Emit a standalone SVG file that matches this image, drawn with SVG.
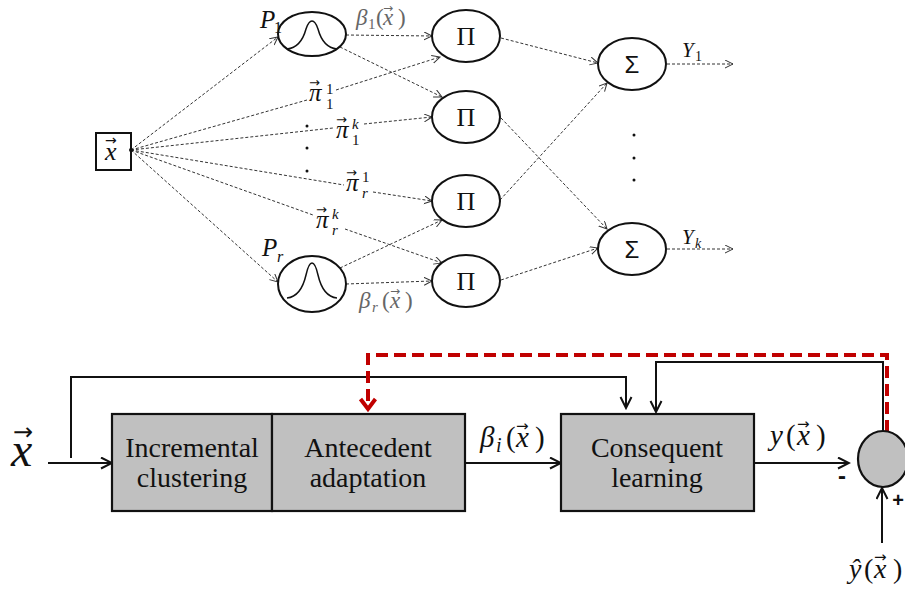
<svg xmlns="http://www.w3.org/2000/svg" width="905" height="592" viewBox="0 0 905 592">
<style>
.node{fill:#fff;stroke:#111;stroke-width:2}
.dl{fill:none;stroke:#333;stroke-width:1;stroke-dasharray:3 2}
.sl{fill:none;stroke:#111;stroke-width:2}
.rl{fill:none;stroke:#c00000;stroke-width:4;stroke-dasharray:12 6}
.box{fill:#c0c0c0;stroke:#111;stroke-width:2.2}
.m{font-family:'Liberation Serif','Times New Roman',serif;font-style:italic;fill:#111}
.n{font-style:normal}
.g{fill:#666}
.t{font-family:'Liberation Serif','Times New Roman',serif;font-size:28px;fill:#111;text-anchor:middle}
.op{font-family:'Liberation Serif',serif;font-size:26px;fill:#111;text-anchor:middle}
.ar{font-family:'DejaVu Sans',sans-serif;font-style:normal}
.dot{fill:#111}
</style>
<defs>
<marker id="ah" markerUnits="userSpaceOnUse" markerWidth="10" markerHeight="9" refX="8" refY="4" orient="auto">
<path d="M0,0 L8,4 L0,8" fill="none" stroke="#333" stroke-width="1"/>
</marker>
<marker id="ab" markerUnits="userSpaceOnUse" markerWidth="14" markerHeight="14" refX="12" refY="6.5" orient="auto">
<path d="M1,1 L12,6.5 L1,12" fill="none" stroke="#111" stroke-width="2"/>
</marker>
<marker id="ar" markerUnits="userSpaceOnUse" markerWidth="16" markerHeight="20" refX="12" refY="9" orient="auto">
<path d="M2,1.5 L12,9 L2,16.5" fill="none" stroke="#c00000" stroke-width="4"/>
</marker>
</defs>

<g id="connectors">
<line class="dl" x1="131" y1="150" x2="278" y2="37" marker-end="url(#ah)"/>
<line class="dl" x1="131" y1="150" x2="278" y2="282" marker-end="url(#ah)"/>
<line class="dl" x1="131" y1="150" x2="307" y2="100"/>
<line class="dl" x1="336" y1="90" x2="440" y2="57" marker-end="url(#ah)"/>
<line class="dl" x1="131" y1="150" x2="333" y2="128"/>
<line class="dl" x1="364" y1="124" x2="432" y2="117" marker-end="url(#ah)"/>
<line class="dl" x1="131" y1="150" x2="344" y2="185"/>
<line class="dl" x1="373" y1="192" x2="432" y2="201" marker-end="url(#ah)"/>
<line class="dl" x1="131" y1="150" x2="313" y2="215"/>
<line class="dl" x1="345" y1="229" x2="442" y2="263" marker-end="url(#ah)"/>
<line class="dl" x1="346" y1="35" x2="432" y2="36" marker-end="url(#ah)"/>
<line class="dl" x1="340" y1="47" x2="442" y2="97" marker-end="url(#ah)"/>
<line class="dl" x1="340" y1="268" x2="442" y2="220" marker-end="url(#ah)"/>
<line class="dl" x1="346" y1="284" x2="432" y2="281" marker-end="url(#ah)"/>
<line class="dl" x1="501" y1="38" x2="598" y2="63" marker-end="url(#ah)"/>
<line class="dl" x1="501" y1="118" x2="607" y2="229" marker-end="url(#ah)"/>
<line class="dl" x1="500" y1="200" x2="607" y2="83" marker-end="url(#ah)"/>
<line class="dl" x1="501" y1="280" x2="598" y2="248" marker-end="url(#ah)"/>
<line class="dl" x1="667" y1="64" x2="733" y2="64" stroke-width="1.3" stroke-dasharray="4 2" marker-end="url(#ah)"/>
<line class="dl" x1="667" y1="249" x2="733" y2="249" stroke-width="1.3" stroke-dasharray="4 2" marker-end="url(#ah)"/>
<line class="sl" x1="48" y1="463" x2="112" y2="463" marker-end="url(#ab)"/>
<polyline class="sl" points="71,458 71,377 626,377 626,408" marker-end="url(#ab)"/>
<line class="sl" x1="465" y1="463" x2="561" y2="463" marker-end="url(#ab)"/>
<line class="sl" x1="754" y1="463" x2="849" y2="463" marker-end="url(#ab)"/>
<line class="sl" x1="882" y1="543" x2="882" y2="488" marker-end="url(#ab)"/>
<polyline class="sl" points="883,432 883,362 656,362 656,412" marker-end="url(#ab)"/>
<polyline class="rl" points="887,432 887,355 368,355 368,409" marker-end="url(#ar)"/>
</g>

<g id="input-x">
<rect x="96" y="133" width="35" height="37" fill="#fff" stroke="#111" stroke-width="2"/>
<text class="m" x="105" y="160" font-size="26">x<tspan class="ar" x="105" y="145" font-size="14">→</tspan></text>
<circle cx="131" cy="150" r="2" class="dot"/>
</g>

<g id="p1">
<ellipse class="node" cx="312" cy="34" rx="34" ry="22"/>
<path d="M287,49 C297,48 303,40 306,29 C308,23 310,21 312,21 C314,21 316,23 318,29 C321,40 327,48 337,49" fill="none" stroke="#111" stroke-width="1.5"/>
<text class="m" x="260" y="28" font-size="25">P<tspan class="n" font-size="16" x="274" y="33">1</tspan></text>
<text class="m g" x="356" y="25" font-size="23">β<tspan class="n" font-size="15" x="368" y="29">1</tspan><tspan class="n" x="376" y="25">(</tspan><tspan x="383" y="25">x</tspan><tspan class="n" x="398" y="25">)</tspan><tspan class="ar" x="383" y="12" font-size="12">→</tspan></text>
</g>

<g id="pr">
<ellipse class="node" cx="312" cy="284" rx="34" ry="28"/>
<path d="M287,298 C297,297 303,288 306,275 C308,266 310,263 312,263 C314,263 316,266 318,275 C321,288 327,297 337,298" fill="none" stroke="#111" stroke-width="1.5"/>
<text class="m" x="262" y="256" font-size="25">P<tspan font-size="16" x="277" y="262">r</tspan></text>
<text class="m g" x="359" y="308" font-size="23">β<tspan font-size="15" x="372" y="312">r</tspan><tspan class="n" x="382" y="308">(</tspan><tspan x="390" y="308">x</tspan><tspan class="n" x="405" y="308">)</tspan><tspan class="ar" x="390" y="295" font-size="12">→</tspan></text>
</g>

<g id="pi-labels">
<text class="m" x="309" y="101" font-size="25">π<tspan class="n" x="326" y="94" font-size="15">1</tspan><tspan class="n" x="326" y="109" font-size="15">1</tspan><tspan class="ar" x="309" y="87" font-size="13">→</tspan></text>
<text class="m" x="336" y="138" font-size="25">π<tspan x="352" y="129" font-size="15">k</tspan><tspan class="n" x="352" y="145" font-size="15">1</tspan><tspan class="ar" x="336" y="124" font-size="13">→</tspan></text>
<text class="m" x="346" y="191" font-size="25">π<tspan class="n" x="362" y="182" font-size="15">1</tspan><tspan x="362" y="198" font-size="15">r</tspan><tspan class="ar" x="346" y="177" font-size="13">→</tspan></text>
<text class="m" x="316" y="228" font-size="25">π<tspan x="332" y="219" font-size="15">k</tspan><tspan x="332" y="235" font-size="15">r</tspan><tspan class="ar" x="316" y="214" font-size="13">→</tspan></text>
<circle cx="307" cy="126" r="1.5" class="dot"/>
<circle cx="307" cy="148" r="1.5" class="dot"/>
<circle cx="307" cy="171" r="1.5" class="dot"/>
</g>

<g id="prod1"><ellipse class="node" cx="466" cy="36" rx="34" ry="26"/><text class="op" x="466" y="45">Π</text></g>
<g id="prod2"><ellipse class="node" cx="466" cy="117" rx="34" ry="26"/><text class="op" x="466" y="126">Π</text></g>
<g id="prod3"><ellipse class="node" cx="466" cy="201" rx="34" ry="26"/><text class="op" x="466" y="210">Π</text></g>
<g id="prod4"><ellipse class="node" cx="466" cy="281" rx="34" ry="26"/><text class="op" x="466" y="290">Π</text></g>

<g id="sum1"><ellipse class="node" cx="632" cy="64" rx="34" ry="26"/><text x="632" y="73" font-family="'Liberation Sans','DejaVu Sans',sans-serif" font-size="24" text-anchor="middle" fill="#111">Σ</text>
<text class="m" x="682" y="57" font-size="21" fill="#555">Y<tspan class="n" font-size="14" x="695" y="61">1</tspan></text></g>
<g id="sum2"><ellipse class="node" cx="632" cy="249" rx="34" ry="26"/><text x="632" y="258" font-family="'Liberation Sans','DejaVu Sans',sans-serif" font-size="24" text-anchor="middle" fill="#111">Σ</text>
<text class="m" x="682" y="244" font-size="21" fill="#555">Y<tspan font-size="14" x="695" y="248">k</tspan></text></g>
<g id="sum-dots">
<circle cx="634" cy="135" r="1.5" class="dot"/>
<circle cx="634" cy="158" r="1.5" class="dot"/>
<circle cx="634" cy="180" r="1.5" class="dot"/>
</g>

<g id="x-input-bottom">
<text class="m" x="11" y="466" font-size="48">x<tspan class="ar" x="13" y="440" font-size="24">→</tspan></text>
</g>

<g id="incremental">
<rect class="box" x="112" y="414" width="160" height="97"/>
<text class="t" x="192" y="457">Incremental</text>
<text class="t" x="192" y="487">clustering</text>
</g>
<g id="antecedent">
<rect class="box" x="272" y="414" width="193" height="97"/>
<text class="t" x="368" y="457">Antecedent</text>
<text class="t" x="368" y="487">adaptation</text>
</g>
<g id="consequent">
<rect class="box" x="561" y="414" width="193" height="97"/>
<text class="t" x="657" y="457">Consequent</text>
<text class="t" x="657" y="487">learning</text>
</g>
<g id="beta-label">
<text class="m" x="480" y="447" font-size="29" fill="#5a6070">β<tspan font-size="20" x="496" y="452">i</tspan><tspan class="n" x="506" y="447">(</tspan><tspan x="516" y="447">x</tspan><tspan class="n" x="535" y="447">)</tspan><tspan class="ar" x="516" y="431" font-size="15">→</tspan></text>
</g>
<g id="y-label">
<text class="m" x="770" y="445" font-size="29">y<tspan class="n" x="786" y="445">(</tspan><tspan x="797" y="445">x</tspan><tspan class="n" x="816" y="445">)</tspan><tspan class="ar" x="797" y="429" font-size="15">→</tspan></text>
</g>
<g id="sum-circle">
<ellipse cx="883" cy="459" rx="25" ry="28" fill="#c0c0c0" stroke="#111" stroke-width="2.2"/>
<text x="842" y="484" font-family="'Liberation Sans','DejaVu Sans',sans-serif" font-size="24" font-weight="bold" fill="#111" text-anchor="middle">-</text>
<text x="898" y="507" font-family="'Liberation Sans','DejaVu Sans',sans-serif" font-size="20" font-weight="bold" fill="#111" text-anchor="middle">+</text>
</g>
<g id="yhat-label">
<text class="m" x="849" y="578" font-size="28">ŷ<tspan class="n" x="864" y="578">(</tspan><tspan x="874" y="578">x</tspan><tspan class="n" x="893" y="578">)</tspan><tspan class="ar" x="874" y="562" font-size="15">→</tspan></text>
</g>
</svg>
